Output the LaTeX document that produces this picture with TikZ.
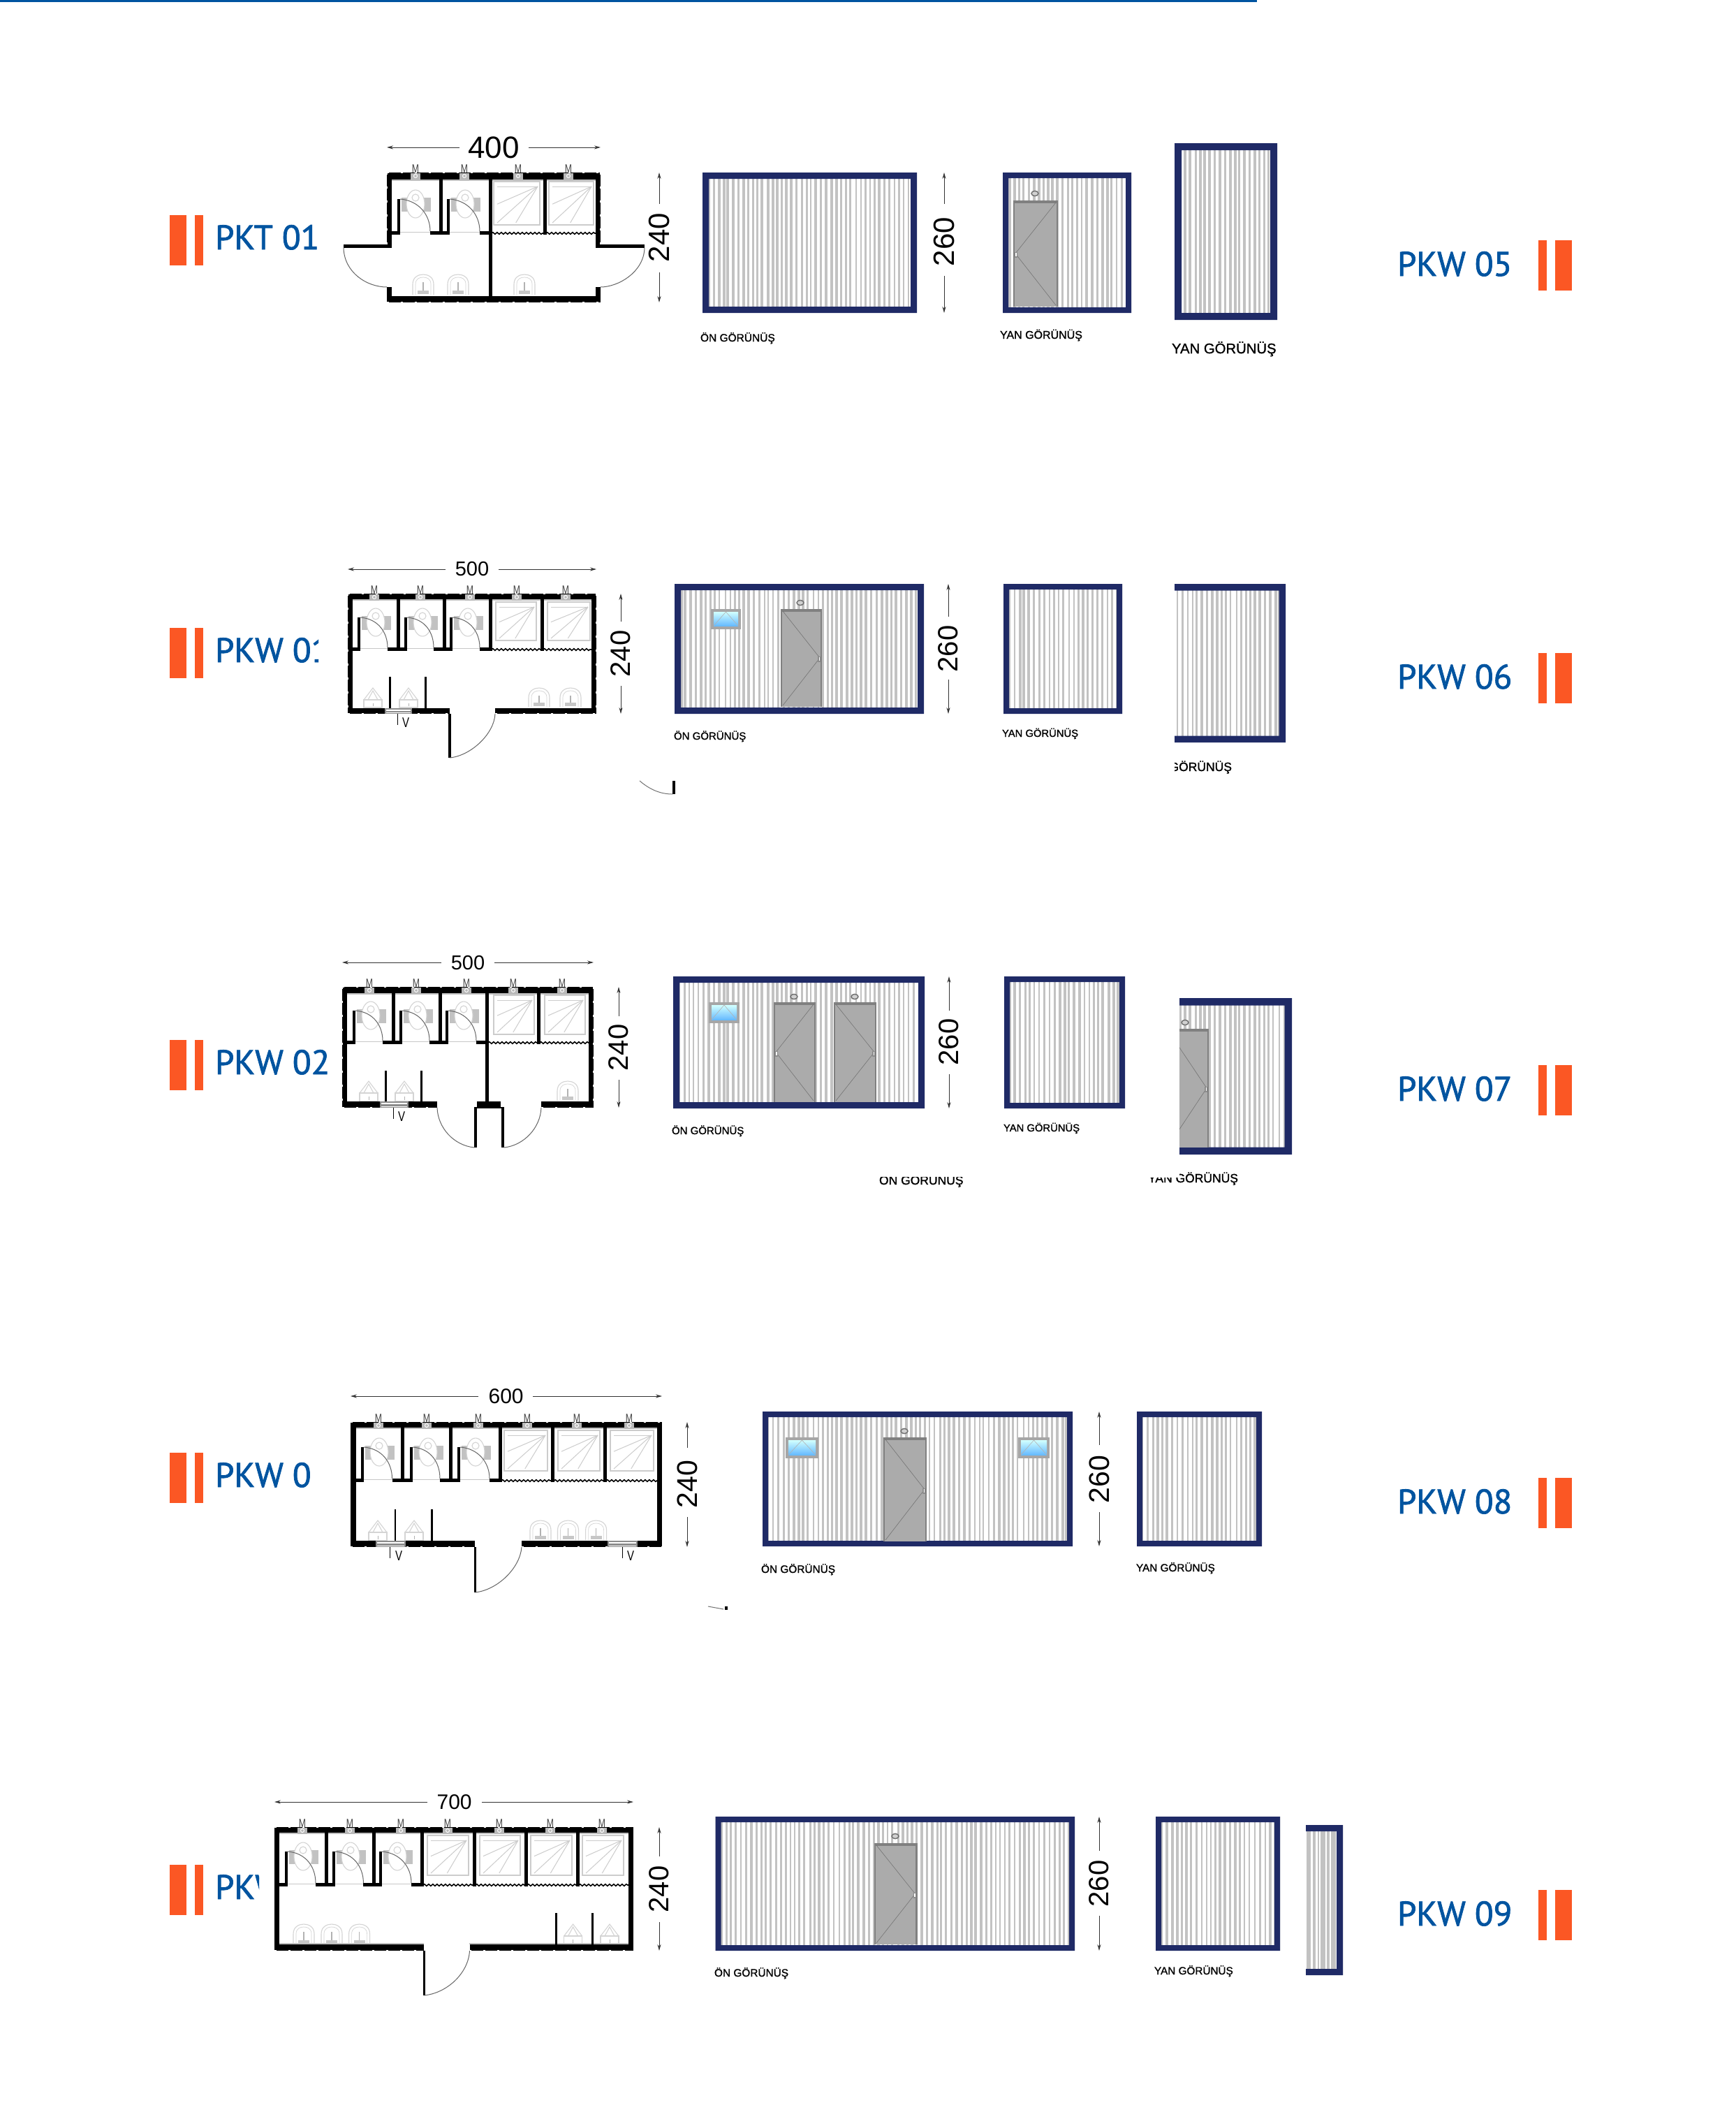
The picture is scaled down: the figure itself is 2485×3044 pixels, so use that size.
\documentclass[tikz,border=0pt]{standalone}
\usepackage{fontspec}
\setmainfont{Liberation Sans}
\newfontfamily\tagfont[FakeBold=1.6]{PT Sans}
\newfontfamily\capfont[FakeBold=1.2]{Liberation Sans}
\usetikzlibrary{arrows.meta,decorations.pathmorphing}
\definecolor{tagblue}{HTML}{0054A0}
\definecolor{tagorange}{HTML}{FB5724}
\definecolor{navy}{HTML}{1F2A66}
\definecolor{stripe}{HTML}{C2C2C2}
\definecolor{doorgrey}{HTML}{ABABAB}
\definecolor{doorline}{HTML}{808080}
\definecolor{fixt}{HTML}{D4D4D4}
\tikzset{
  dimline/.style={draw=black!80,line width=1pt},
  dimtip/.style={-{Stealth[length=9pt,width=5pt]}},
  wallfill/.style={fill=black},
  fixture/.style={draw=fixt,line width=1.1pt},
  txt/.style={inner sep=0pt,outer sep=0pt,text=black},
  speck/.style={draw=white,line width=1.6pt,dash pattern=on 3pt off 17pt}
}
\newcommand\Wall[4]{\fill[wallfill] (#1,#2) rectangle (#3,#4);}
\newcommand\InnerEdge[4]{\draw[black!25,line width=1.6pt] (#1,#2) -- (#3,#4);}
\newcommand\WC[6]{%
  \fill[black!24] (#2+4,#5-2) rectangle (#2+46,#5+18);
  \draw[fixture,fill=white] (#2+24,#5+7) ellipse (13pt and 20pt);
  \draw[fixture] (#2+24,#5-2) circle (5pt);
  \draw[black!22,line width=1pt] (#2,#6-4) -- (#3-13,#6-4);
  \Wall{#1}{#6-5}{#2+2}{#6}
  \Wall{#3-13}{#6-5}{#3}{#6}
  \Wall{#2-2}{#5}{#2+2}{#6}
  \draw[black!60,line width=1pt] (#2+2,#5) .. controls (#2+28,#5+2) and (#3-13,#5+22) .. (#3-13,#6-5);
}
\newcommand\Tray[4]{%
  \draw[black!20,line width=2.4pt] (#1,#3) rectangle (#2,#4);
  \draw[black!20,line width=1pt] (#1+5,#3+7) -- (#2-4,#3+7);
  \draw[black!20,line width=1pt] (#2-3,#3+7) -- (#1+5,#3+0.52*#4-0.52*#3);
  \draw[black!20,line width=1pt] (#2-3,#3+7) -- (#1+5,#4-3);
  \draw[black!20,line width=1pt] (#2-3,#3+7) -- (#1+0.48*#2-0.48*#1,#4-3);
}
\newcommand\Curtain[3]{\draw[black,line width=1.6pt,decorate,decoration={snake,amplitude=1.3pt,segment length=6pt}] (#1,#3) -- (#2,#3);}
\newcommand\Mmark[2]{%
  \fill[black!28] (#1-7,#2+1) rectangle (#1+7,#2+10);
  \draw[white,line width=1pt] (#1,#2+5) circle (2.5pt);
  \node[txt,anchor=base,text=black!75] (m-#1-#2) at (#1,#2) {\fontsize{17}{17}\selectfont\scalebox{.72}[1]{M}};
}
\newcommand\SinkR[3]{%
  \draw[fixture] (#1-15,#3) -- (#1-15,#2+14) .. controls (#1-15,#2+3) and (#1-6,#2) .. (#1,#2) .. controls (#1+6,#2) and (#1+15,#2+3) .. (#1+15,#2+14) -- (#1+15,#3);
  \draw[fixture,line width=.7pt] (#1-11,#3) -- (#1-11,#2+14) .. controls (#1-11,#2+6) and (#1-5,#2+4) .. (#1,#2+4) .. controls (#1+5,#2+4) and (#1+11,#2+6) .. (#1+11,#2+14) -- (#1+11,#3);
  \draw[black!30,line width=1.2pt] (#1,#2+11) -- (#1,#3-6);
  \fill[black!22] (#1-8,#3-6) rectangle (#1+8,#3-1);
}
\newcommand\SinkT[3]{%
  \draw[fixture] (#1-13,#2+17) -- (#1,#2) -- (#1+13,#2+17);
  \draw[fixture] (#1-7,#2+17) -- (#1,#2+4) -- (#1+7,#2+17);
  \draw[fixture] (#1-13,#2+17) rectangle (#1+13,#3);
  \draw[black!30,line width=1pt] (#1,#2+22) -- (#1,#3-2);
}
\newcommand\Vent[4]{%
  \fill[black!45] (#1,#3) rectangle (#2,#4);
  \fill[white] (#1+2,#3+1.5) rectangle (#2-2,#3+3.5);
  \fill[white] (#1+2,#4-2.5) rectangle (#2-2,#4-1);
}
\newcommand\VMark[3]{%
  \draw[black,line width=1pt] (#1,#3) -- (#1,#3+16);
  \node[txt,anchor=center] (v-#2-#3) at (#2,#3+13) {\fontsize{20}{20}\selectfont\scalebox{.75}[1]{V}};
}
\newcommand\DimH[9]{%
  \node[txt,anchor=center] (#9) at (#6,#3) {\fontsize{#8}{#8}\selectfont #7};
  \draw[dimline,dimtip] (#4,#3) -- (#1,#3);
  \draw[dimline,dimtip] (#5,#3) -- (#2,#3);
}
\newcommand\DimV[9]{%
  \node[txt,anchor=center,rotate=90] (#9) at (#1,#6) {\fontsize{#8}{#8}\selectfont #7};
  \draw[dimline,dimtip] (#1,#4) -- (#1,#2);
  \draw[dimline,dimtip] (#1,#5) -- (#1,#3);
}
\def\stp{7}
\newcommand\Panel[5]{%
  \begin{scope}
    \clip (#1,#2) rectangle (#3,#4);
    \pgfmathsetmacro\sxa{#1+2}\pgfmathsetmacro\sxb{#1+2+\stp}
    \foreach \xx in {\sxa,\sxb,...,#3}{%
      \pgfmathsetmacro\sw{2.2+1.5*abs(sin(mod(\xx,97)*53))}%
      \pgfmathsetmacro\sj{\xx+1.0*sin(mod(\xx,61)*97)}%
      \draw[stripe,line width=\sw pt] (\sj,#2) -- (\sj,#4);
    }
  \end{scope}
  \fill[navy,even odd rule] (#1,#2) rectangle (#3,#4) (#1+#5,#2+#5) rectangle (#3-#5,#4-#5);
}
\newcommand\OpenPanel[5]{%
  \begin{scope}
    \clip (#1,#2-1) rectangle (#3+1,#4+1);
    \Panel{#1-40}{#2}{#3}{#4}{#5}
  \end{scope}
}
\newcommand\DoorV[5]{%
  \fill[doorgrey] (#1,#2) rectangle (#3,#4);
  \draw[doorline,line width=2.6pt] (#1+1,#4) -- (#1+1,#2+1) -- (#3-1,#2+1) -- (#3-1,#4);
  \draw[doorline,line width=3pt] (#1,#2+2) -- (#3,#2+2);
  \draw[black!55,line width=.6pt] (#5,#2+3) -- (\dmx,#2*0.5+#4*0.5) -- (#5,#4-2);
}
\newcommand\DoorL[4]{\def\dmx{#1+3}\DoorV{#1}{#2}{#3}{#4}{#3-3}\fill[black!45] (#1+2,#2*0.5+#4*0.5-2) rectangle (#1+6,#2*0.5+#4*0.5+6);\fill[white] (#1+3,#2*0.5+#4*0.5-1) rectangle (#1+4.5,#2*0.5+#4*0.5+4);}
\newcommand\DoorR[4]{\def\dmx{#3-3}\DoorV{#1}{#2}{#3}{#4}{#1+3}\fill[black!45] (#3-6,#2*0.5+#4*0.5-2) rectangle (#3-2,#2*0.5+#4*0.5+6);\fill[white] (#3-4.5,#2*0.5+#4*0.5-1) rectangle (#3-3,#2*0.5+#4*0.5+4);}
\newcommand\Lamp[2]{\draw[black!55,fill=black!18,line width=1.5pt] (#1,#2) ellipse (5pt and 3.6pt);}
\newcommand\Pane[4]{%
  \fill[black!35] (#1,#2) rectangle (#3,#4);
  \shade[top color=cyan!18!white,bottom color=cyan!55!blue!60!white] (#1+4,#2+4) rectangle (#3-4,#4-5);
  \draw[white!70!black,line width=.6pt] (#1+4,#4-5) -- (#1*0.5+#3*0.5,#2+4) -- (#3-4,#4-5);
}
\newcommand\Cap[5]{\node[txt,anchor=base west] (#1) at (#2,#3) {\capfont\fontsize{#4}{#4}\selectfont #5};}
\newcommand\LTag[3]{%
  \fill[tagorange] (243,#1) rectangle (267,#1+72);
  \fill[tagorange] (279,#1) rectangle (291,#1+72);
  \begin{scope}
    \clip (300,#1-5) rectangle (#3,#1+80);
    \node[txt,anchor=base west,text=tagblue] (ltag-#1) at (308,#1+49) {\tagfont\fontsize{49}{49}\selectfont #2};
  \end{scope}
}
\newcommand\RTag[2]{%
  \fill[tagorange] (2203,#1) rectangle (2215,#1+72);
  \fill[tagorange] (2227,#1) rectangle (2251,#1+72);
  \node[txt,anchor=base west,text=tagblue] (rtag-#1) at (2001,#1+51) {\tagfont\fontsize{49}{49}\selectfont #2};
}
\begin{document}
\begin{tikzpicture}[x=1pt,y=-1pt]
\useasboundingbox (0,0) rectangle (2485,3044);
\fill[white] (0,0) rectangle (2485,3044);
\fill[tagblue] (0,0) rectangle (1800,2.5);

%% ROW 1
\LTag{308}{PKT 01}{500}
\RTag{344}{PKW 05}
\DimH{554}{860}{211}{658}{757}{707}{400}{44}{d400}
\DimV{944}{247}{433}{292}{390}{340}{240}{42}{d240a}
\WC{561}{571}{629}{257}{285}{336}
\WC{633}{642}{700}{257}{285}{336}
\Tray{707}{773}{260}{322}
\Tray{786}{850}{260}{322}
\SinkR{606}{393}{422}\SinkR{656}{393}{422}\SinkR{751}{393}{422}
\InnerEdge{561}{258}{853}{258}
\Curtain{704}{778}{334}\Curtain{782}{853}{334}
\Wall{554}{247}{860}{257}
\Wall{554}{247}{561}{352}\Wall{492}{350}{561}{355}\Wall{554}{411}{561}{433}
\Wall{853}{247}{860}{352}\Wall{853}{350}{923}{355}\Wall{853}{411}{860}{433}
\Wall{554}{424}{860}{433}
\Wall{628.5}{257}{633.5}{336}\Wall{699.5}{257}{704.5}{424}\Wall{777.5}{257}{782.5}{336}
\draw[speck] (554,247) -- (860,247);\draw[speck] (554,433) -- (860,433);\draw[speck] (554,247) -- (554,352);\draw[speck] (860,247) -- (860,352);
\draw[black!60,line width=1pt] (492,355) .. controls (493,390) and (525,411) .. (554,411);
\draw[black!60,line width=1pt] (923,355) .. controls (922,390) and (885,411) .. (860,411);
\foreach \m in {595,665,742,814}{\Mmark{\m}{247}}
\Panel{1006}{247}{1313}{448}{9}
\Panel{1436}{247}{1620}{448}{8}
\DoorL{1451}{287}{1515}{439}
\Lamp{1482}{277}
\DimV{1352}{247}{448}{292}{395}{346}{260}{42}{d260a}
\Panel{1682}{205}{1829}{458}{10}
\Cap{ca}{1003}{489}{15.5}{ÖN GÖRÜNÜŞ}
\Cap{cb}{1432}{485}{16}{YAN GÖRÜNÜŞ}
\Cap{cc}{1678}{506}{20.3}{YAN GÖRÜNÜŞ}

%% ROW 2
\LTag{899}{PKW 01}{456}
\RTag{935}{PKW 06}
\DimH{498}{854}{815}{638}{714}{676}{500}{29}{d500a}
\DimV{889}{850}{1022}{890}{982}{936}{240}{40}{d240b}
\WC{505}{514}{568}{858}{884}{932}
\WC{572}{581}{634}{858}{884}{932}
\WC{638}{646}{700}{858}{884}{932}
\Tray{710}{768}{862}{917}
\Tray{784}{845}{862}{917}
\SinkT{534}{985}{1013}\SinkT{585}{985}{1013}
\SinkR{772}{985}{1012}\SinkR{817}{985}{1012}
\InnerEdge{505}{859}{847}{859}
\Curtain{704}{774}{930}\Curtain{778}{847}{930}
\Wall{498}{850}{854}{858}
\Wall{498}{850}{505}{1022}\Wall{847}{850}{854}{1022}
\Wall{498}{1014}{644}{1022}\Wall{709}{1014}{854}{1022}
\Wall{567.5}{858}{572.5}{932}\Wall{633.5}{858}{638.5}{932}\Wall{699.5}{858}{704.5}{932}\Wall{773.5}{858}{778.5}{932}
\Wall{557}{969}{559.5}{1014}\Wall{608}{969}{610.5}{1014}
\Wall{642}{1022}{646}{1085}
\draw[speck] (498,850) -- (854,850);\draw[speck] (498,1022) -- (644,1022);\draw[speck] (709,1022) -- (854,1022);\draw[speck] (498,850) -- (498,1022);\draw[speck] (854,850) -- (854,1022);
\draw[black!60,line width=1pt] (644,1085) .. controls (675,1082) and (708,1050) .. (709,1022);
\Vent{551}{590}{1014}{1022}
\VMark{569.5}{581}{1022}
\foreach \m in {536,602,673,740,810}{\Mmark{\m}{850}}
\draw[black!55,line width=1pt] (916,1118) .. controls (930,1130) and (945,1137) .. (963,1137);
\Wall{963}{1118}{967}{1137}
\Panel{966}{836}{1323}{1022}{9}
\Pane{1018}{872}{1061}{901}
\DoorR{1118}{872}{1177}{1012}
\Lamp{1146}{863}
\DimV{1358}{836}{1022}{883}{973}{929}{260}{40}{d260b}
\Panel{1437}{836}{1607}{1022}{8}
\OpenPanel{1682}{836}{1841}{1063}{9.5}
\Cap{cd}{965}{1059}{15}{ÖN GÖRÜNÜŞ}
\Cap{ce}{1435}{1055}{14.8}{YAN GÖRÜNÜŞ}
\begin{scope}
  \clip (1682,1080) rectangle (1800,1115);
  \Cap{cf}{1635}{1104}{17.5}{YAN GÖRÜNÜŞ}
\end{scope}

%% ROW 3
\LTag{1489}{PKW 02}{500}
\RTag{1525}{PKW 07}
\DimH{490}{850}{1378}{632}{708}{670}{500}{29}{d500b}
\DimV{886}{1413}{1586}{1455}{1546}{1500}{240}{40}{d240c}
\WC{497}{507}{561}{1422}{1447}{1495}
\WC{565}{574}{628}{1422}{1447}{1495}
\WC{632}{640}{695}{1422}{1447}{1495}
\Tray{707}{765}{1425}{1481}
\Tray{780}{838}{1425}{1481}
\SinkT{528}{1548}{1577}\SinkT{579}{1548}{1577}
\SinkR{813}{1548}{1576}
\InnerEdge{497}{1423}{843}{1423}
\Curtain{699}{769}{1493}\Curtain{773}{843}{1493}
\Wall{490}{1413}{850}{1422}
\Wall{490}{1413}{497}{1586}\Wall{843}{1413}{850}{1586}
\Wall{490}{1577}{626}{1586}\Wall{683}{1577}{717}{1586}\Wall{775}{1577}{850}{1586}
\Wall{560.5}{1422}{565.5}{1495}\Wall{627.5}{1422}{632.5}{1495}\Wall{694.5}{1422}{699.5}{1577}\Wall{768.5}{1422}{773.5}{1495}
\Wall{551}{1533}{553.5}{1577}\Wall{602}{1533}{604.5}{1577}
\Wall{679}{1586}{683}{1643}\Wall{718}{1586}{722}{1643}\Wall{679}{1585}{722}{1587}
\draw[speck] (490,1413) -- (850,1413);\draw[speck] (490,1586) -- (626,1586);\draw[speck] (775,1586) -- (850,1586);\draw[speck] (490,1413) -- (490,1586);\draw[speck] (850,1413) -- (850,1586);
\draw[black!60,line width=1pt] (679,1643) .. controls (650,1640) and (627,1615) .. (626,1586);
\draw[black!60,line width=1pt] (722,1643) .. controls (750,1640) and (774,1615) .. (775,1586);
\Vent{544}{585}{1577}{1586}
\VMark{563}{575}{1586}
\foreach \m in {529,596,668,735,805}{\Mmark{\m}{1413}}
\Panel{964}{1398}{1324}{1587}{9}
\Pane{1015}{1435}{1059}{1465}
\DoorL{1108}{1435}{1168}{1578}
\DoorR{1194}{1435}{1255}{1578}
\Lamp{1137}{1427}\Lamp{1224}{1427}
\DimV{1359}{1398}{1587}{1447}{1538}{1492}{260}{40}{d260c}
\Panel{1438}{1398}{1611}{1587}{8}
\begin{scope}
  \clip (1689,1420) rectangle (1860,1660);
  \Panel{1640}{1429}{1850}{1653}{10.5}
  \DoorR{1670}{1473}{1731}{1643}
  \Lamp{1697}{1464}
\end{scope}
\Cap{cg}{962}{1624}{15}{ÖN GÖRÜNÜŞ}
\Cap{ch}{1437}{1620}{14.8}{YAN GÖRÜNÜŞ}
\begin{scope}
  \clip (1250,1685) rectangle (1400,1710);
  \Cap{ci}{1259}{1696}{17.5}{ÖN GÖRÜNÜŞ}
\end{scope}
\begin{scope}
  \clip (1689,1670) rectangle (1800,1710) (1640,1686) rectangle (1689,1710);
  \Cap{cj}{1644}{1693}{17.5}{YAN GÖRÜNÜŞ}
\end{scope}

%% ROW 4
\LTag{2080}{PKW 0}{500}
\RTag{2116}{PKW 08}
\DimH{502}{948}{1999}{685}{763}{724.6}{600}{30}{d600}
\DimV{984}{2036}{2215}{2073}{2172}{2125}{240}{41}{d240d}
\WC{510}{519}{574.5}{2044}{2072}{2122}
\WC{578.5}{589}{643}{2044}{2072}{2122}
\WC{647}{657}{714}{2044}{2072}{2122}
\Tray{722}{784}{2048}{2106}
\Tray{799}{859}{2048}{2106}
\Tray{874}{936}{2048}{2106}
\SinkT{541}{2177}{2206}\SinkT{593}{2177}{2206}
\SinkR{774}{2177}{2205}\SinkR{813.5}{2177}{2205}\SinkR{853.6}{2177}{2205}
\InnerEdge{510}{2045}{941}{2045}
\Curtain{718}{790}{2120}\Curtain{793.5}{864}{2120}\Curtain{868}{941}{2120}
\Wall{502}{2036}{948}{2044}
\Wall{502}{2036}{510}{2215}\Wall{941}{2036}{948}{2215}
\Wall{502}{2206}{680}{2215}\Wall{747}{2206}{948}{2215}
\Wall{574}{2044}{579}{2122}\Wall{642.5}{2044}{647.5}{2122}\Wall{713.5}{2044}{718.5}{2122}\Wall{789}{2044}{794}{2122}\Wall{863.5}{2044}{868.5}{2122}
\Wall{564.5}{2161}{567}{2206}\Wall{617}{2161}{619.5}{2206}
\Wall{678.5}{2215}{682}{2280}
\draw[speck] (502,2036) -- (948,2036);\draw[speck] (502,2215) -- (680,2215);\draw[speck] (747,2215) -- (948,2215);
\draw[black!60,line width=1pt] (680,2280) .. controls (712,2277) and (745,2245) .. (747,2215);
\Vent{538}{581}{2206}{2215}\Vent{870}{913}{2206}{2215}
\VMark{558}{571}{2215}\VMark{891}{903}{2215}
\foreach \m in {542,611,685,755,826,901}{\Mmark{\m}{2036}}
\draw[black!55,line width=1pt] (1014,2300) -- (1036,2304);
\Wall{1038}{2300}{1042}{2305}
\Panel{1092}{2021}{1536}{2214}{8}
\Pane{1125}{2058}{1172}{2088}\Pane{1458}{2058}{1503}{2088}
\DoorR{1265}{2058}{1327}{2207}
\Lamp{1295}{2049}
\DimV{1574}{2021}{2214}{2069}{2165}{2118}{260}{41}{d260d}
\Panel{1628}{2021}{1807}{2214}{8}
\Cap{ck}{1090}{2252}{15.4}{ÖN GÖRÜNÜŞ}
\Cap{cl}{1627}{2250}{15.3}{YAN GÖRÜNÜŞ}

%% ROW 5
\LTag{2670}{PKW 03}{371}
\RTag{2706}{PKW 09}
\DimH{393}{907}{2580}{612}{690}{650.6}{700}{30}{d700}
\DimV{944}{2616}{2793}{2658}{2752}{2705}{240}{40}{d240e}
\WC{400}{410}{465}{2624}{2651}{2701}
\WC{469}{478}{533.4}{2624}{2651}{2701}
\WC{537.4}{545}{602}{2624}{2651}{2701}
\Tray{612}{671}{2628}{2685}
\Tray{687}{745}{2628}{2685}
\Tray{760}{819}{2628}{2685}
\Tray{834}{893}{2628}{2685}
\SinkR{435}{2755}{2784}\SinkR{475}{2755}{2784}\SinkR{514.6}{2755}{2784}
\SinkT{820.6}{2755}{2784}\SinkT{873}{2755}{2784}
\InnerEdge{400}{2625}{900}{2625}
\InnerEdge{400}{2783}{607}{2783}
\InnerEdge{672}{2783}{900}{2783}
\Curtain{606}{677}{2699}\Curtain{681}{751}{2699}\Curtain{755}{825}{2699}\Curtain{829}{900}{2699}
\Wall{393}{2616}{907}{2624}
\Wall{393}{2616}{400}{2793}\Wall{900}{2616}{907}{2793}
\Wall{393}{2784}{607}{2793}\Wall{672.5}{2784}{907}{2793}
\Wall{464.5}{2624}{469.5}{2701}\Wall{533}{2624}{538}{2701}\Wall{601.5}{2624}{606.5}{2701}\Wall{676.5}{2624}{681.5}{2701}\Wall{750.5}{2624}{755.5}{2701}\Wall{824.5}{2624}{829.5}{2701}
\Wall{795}{2739}{797.5}{2784}\Wall{847}{2739}{849.5}{2784}
\Wall{605.5}{2793}{609}{2857}
\draw[speck] (393,2616) -- (907,2616);\draw[speck] (393,2793) -- (607,2793);\draw[speck] (672,2793) -- (907,2793);
\draw[black!60,line width=1pt] (607,2857) .. controls (640,2854) and (671,2825) .. (672.5,2793);
\foreach \m in {433,501,574,641,715,788,862}{\Mmark{\m}{2616}}
\Panel{1024.5}{2601}{1539}{2793}{8}
\DoorR{1252}{2639}{1313.5}{2784}
\Lamp{1282}{2629}
\DimV{1574}{2601}{2793}{2650}{2743}{2697}{260}{40}{d260e}
\Panel{1655}{2601}{1833}{2793}{8}
\def\stp{5}
\OpenPanel{1870}{2613}{1923}{2828}{9}
\def\stp{7}
\Cap{cm}{1023}{2830}{15.4}{ÖN GÖRÜNÜŞ}
\Cap{cn}{1653}{2827}{15.3}{YAN GÖRÜNÜŞ}
\end{tikzpicture}
\end{document}
